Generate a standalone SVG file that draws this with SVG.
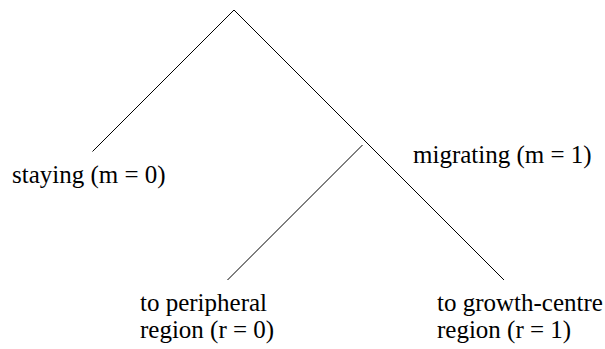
<svg xmlns="http://www.w3.org/2000/svg" width="605" height="349" viewBox="0 0 605 349">
<style>
.l{stroke:#000;stroke-width:1;fill:none}
</style>
<rect width="605" height="349" fill="#fff"/>
<g id="connectors">
<line class="l" x1="234" y1="10" x2="92.5" y2="151.5"/>
<line class="l" x1="234" y1="10" x2="504" y2="280"/>
<line class="l" x1="362.5" y1="145" x2="227.5" y2="280"/>
</g>
<g font-family="'Times New Roman', Times, 'Liberation Serif', 'DejaVu Serif', serif" font-size="25" fill="#000">
<g id="staying"><text x="12" y="183">staying (m = 0)</text></g>
<g id="migrating"><text x="413" y="163">migrating (m = 1)</text></g>
<g id="peripheral"><text x="140" y="311">to peripheral</text><text x="140" y="338">region (r = 0)</text></g>
<g id="growth"><text x="437" y="311">to growth-centre</text><text x="437" y="338">region (r = 1)</text></g>
</g>
</svg>
